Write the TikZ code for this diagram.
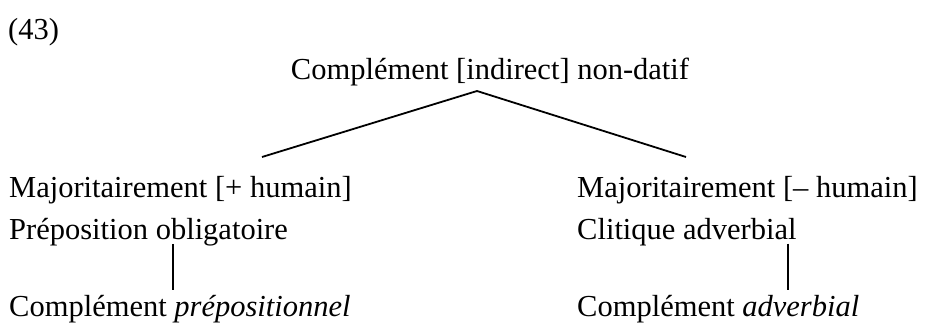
\documentclass[tikz,border=0pt]{standalone}
\usepackage{fontspec}
\setmainfont{Liberation Serif}
\begin{document}
\begin{tikzpicture}[x=1pt, y=-1pt,
    lbl/.style={font=\fontsize{30.5}{36}\selectfont, inner sep=0pt, anchor=base west},
    branch/.style={line width=1.8pt}]
    \useasboundingbox (0,0) rectangle (928,329);

    % Example number
    \node[lbl] (num) at (8,40) {(43)};

    % Root
    \node[lbl, anchor=base] (root) at (490,79) {Complément [indirect] non-datif};
    \coordinate (apex) at (477,91);
    \coordinate (lend) at (262,157);
    \coordinate (rend) at (686,157);
    \draw[branch] (apex) -- (lend);
    \draw[branch] (apex) -- (rend);

    % Left branch
    \node[lbl] (la) at (9,197) {Majoritairement [+ humain]};
    \node[lbl] (lb) at (9,239) {Préposition obligatoire};
    \node[lbl] (lc) at (9,316) {Complément \textit{prépositionnel}};
    \coordinate (lstem) at (173,0);
    \draw[branch] ([yshift=2pt]lb.south -| lstem) -- ([yshift=5pt]lc.north -| lstem);

    % Right branch
    \node[lbl] (ra) at (577,197) {Majoritairement [– humain]};
    \node[lbl] (rb) at (577,239) {Clitique adverbial};
    \node[lbl] (rc) at (577,316) {Complément \textit{adverbial}};
    \coordinate (rstem) at (788,0);
    \draw[branch] ([yshift=2pt]rb.south -| rstem) -- ([yshift=5pt]rc.north -| rstem);
\end{tikzpicture}
\end{document}
